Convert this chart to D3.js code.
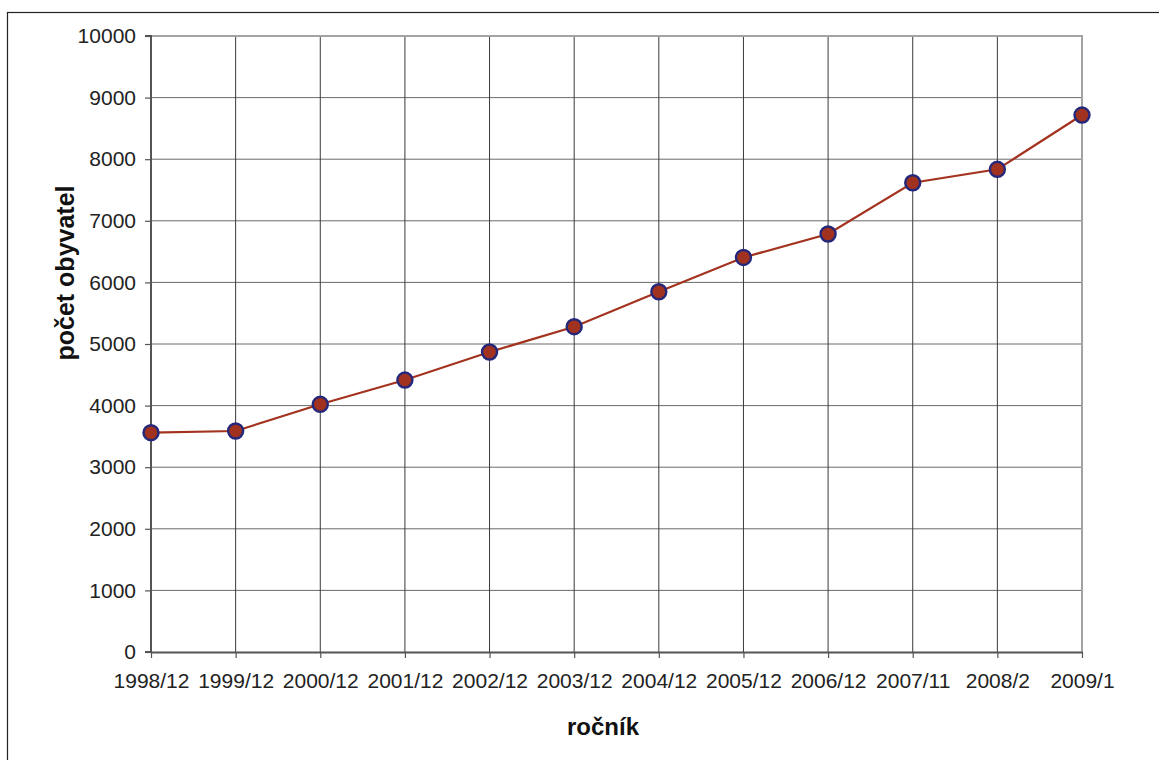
<!DOCTYPE html>
<html>
<head>
<meta charset="utf-8">
<script src="https://cdn.jsdelivr.net/npm/d3@7"></script>
<style>
  body { margin: 0; background: #fff; }
  svg { display: block; font-family: "Liberation Sans", Arial, sans-serif; }
</style>
</head>
<body>
<script>
// chart data
const categories = ['1998/12', '1999/12', '2000/12', '2001/12', '2002/12', '2003/12',
  '2004/12', '2005/12', '2006/12', '2007/11', '2008/2', '2009/1'];
const population = [3560, 3588, 4021, 4415, 4870, 5281, 5848, 6405, 6786, 7618, 7836, 8717];
const yTicks = [0, 1000, 2000, 3000, 4000, 5000, 6000, 7000, 8000, 9000, 10000];

const width = 1159, height = 760;
const plot = { left: 151, right: 1082, top: 36, bottom: 652 };

let svg = d3.select('body').append('svg')
  .attr('width', width)
  .attr('height', height);

// outer chart frame (runs off the right and bottom edge)
svg.append('rect')
  .attr('x', 7.5).attr('y', 12.5)
  .attr('width', 1170).attr('height', 780)
  .attr('fill', 'none')
  .attr('stroke', '#222')
  .attr('stroke-width', 1.2);

let x = d3.scalePoint()
  .domain(categories)
  .range([plot.left, plot.right]);

let y = d3.scaleLinear()
  .domain([0, 10000])
  .range([plot.bottom, plot.top]);

// horizontal gridlines
svg.append('g')
  .selectAll('line')
  .data(yTicks.filter(d => d > 0 && d < 10000))
  .enter().append('line')
  .attr('x1', plot.left).attr('x2', plot.right)
  .attr('y1', d => y(d)).attr('y2', d => y(d))
  .attr('stroke', '#6a6a6a')
  .attr('stroke-width', 1);

// vertical gridlines
svg.append('g')
  .selectAll('line')
  .data(categories.slice(1, -1))
  .enter().append('line')
  .attr('x1', d => x(d)).attr('x2', d => x(d))
  .attr('y1', plot.top).attr('y2', plot.bottom)
  .attr('stroke', '#3a3a3a')
  .attr('stroke-width', 1);

// plot area border top + right
svg.append('path')
  .attr('d', `M${plot.left},${plot.top}H${plot.right}V${plot.bottom}`)
  .attr('fill', 'none')
  .attr('stroke', '#a3a3a3')
  .attr('stroke-width', 2);

// y axis
let yAxis = svg.append('g')
  .attr('transform', `translate(${plot.left},0)`)
  .call(d3.axisLeft(y).tickValues(yTicks).tickSize(6).tickPadding(9).tickFormat(d3.format('d')));

// x axis
let xAxis = svg.append('g')
  .attr('transform', `translate(0,${plot.bottom})`)
  .call(d3.axisBottom(x).tickSize(6).tickPadding(15).tickSizeOuter(0));

[yAxis, xAxis].forEach(function(ax) {
  ax.select('.domain').attr('stroke', '#555').attr('stroke-width', 2);
  ax.selectAll('.tick line').attr('stroke', '#555').attr('stroke-width', 1.2);
  ax.selectAll('.tick text')
    .attr('fill', '#222')
    .style('font-size', '21px')
    .style('font-family', '"Liberation Sans", Arial, sans-serif');
});
yAxis.select('.domain').attr('d', `M-6,${plot.bottom}H0V${plot.top}H-6`);

// axis titles
svg.append('text')
  .attr('transform', 'translate(74,273) rotate(-90)')
  .attr('text-anchor', 'middle')
  .style('font-size', '25px')
  .style('font-weight', 'bold')
  .attr('fill', '#111')
  .text('počet obyvatel');

svg.append('text')
  .attr('x', 603).attr('y', 735)
  .attr('text-anchor', 'middle')
  .style('font-size', '24px')
  .style('font-weight', 'bold')
  .attr('fill', '#111')
  .text('ročník');

// series line
let line = d3.line()
  .x((d, i) => x(categories[i]))
  .y(d => y(d));

svg.append('path')
  .datum(population)
  .attr('d', line)
  .attr('fill', 'none')
  .attr('stroke', '#a3331f')
  .attr('stroke-width', 2.2);

// markers
svg.append('g')
  .selectAll('circle')
  .data(population)
  .enter().append('circle')
  .attr('cx', (d, i) => x(categories[i]))
  .attr('cy', d => y(d))
  .attr('r', 7.5)
  .attr('fill', '#a0321f')
  .attr('stroke', '#25287a')
  .attr('stroke-width', 2.4);
</script>
</body>
</html>
